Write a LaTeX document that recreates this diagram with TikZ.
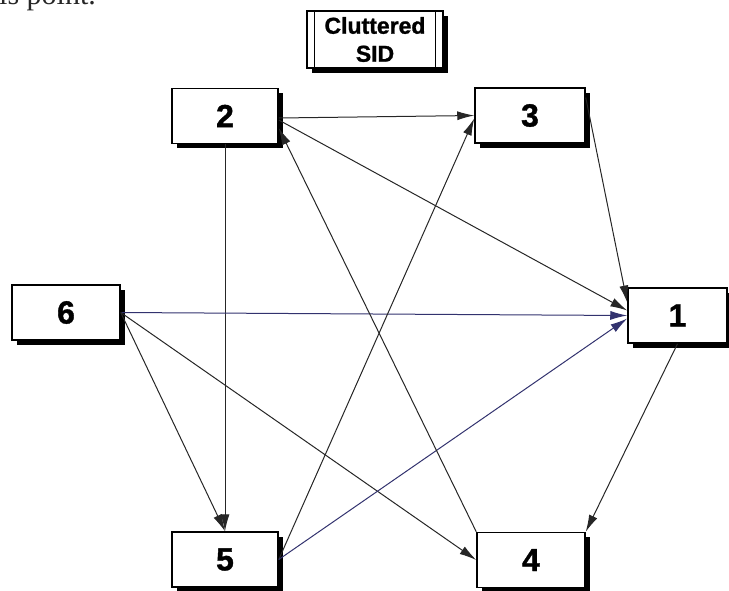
\documentclass[tikz,border=0pt]{standalone}
\usepackage{fontspec}
\setmainfont{Liberation Serif}
\newfontfamily\boxfont[FakeBold=1.2]{Liberation Sans Bold}
\usetikzlibrary{arrows.meta,shadows}

\begin{document}
\begin{tikzpicture}[x=1pt,y=-1pt,
  box/.style={draw=black, line width=1.5pt, fill=white, inner sep=0pt,
    minimum height=55pt, font=\boxfont\fontsize{32}{32}\selectfont,
    drop shadow={shadow xshift=4.5pt, shadow yshift=-4.5pt, fill=black, opacity=1}},
  link/.style={draw=black!85, line width=1pt, -{Latex[length=17pt,width=9pt]}},
  hlink/.style={link, draw={rgb,255:red,50;green,50;blue,110}},
]
\useasboundingbox (0,0) rectangle (729,590);
\clip (0,0) rectangle (729,590);

% running text from the page above the figure
\node[anchor=base west, inner sep=0pt, font=\fontsize{30}{30}\selectfont, text=black!85]
  (frag) at (-1,4) {is point.};

% title box (predefined-process style with inner side bars)
\node[box, minimum width=136pt, minimum height=57pt,
  font=\boxfont\fontsize{23}{28}\selectfont, align=center]
  (title) at (375,39.5) {Cluttered\\SID};
\draw[line width=1.2pt] ([xshift=8pt]title.north west) -- ([xshift=8pt]title.south west);
\draw[line width=1.2pt] ([xshift=-8pt]title.north east) -- ([xshift=-8pt]title.south east);

% numbered boxes
\node[box, minimum width=106pt] (n2) at (225,116) {2};
\node[box, minimum width=110pt] (n3) at (530,115.5) {3};
\node[box, minimum width=108pt] (n6) at (66,312.5) {6};
\node[box, minimum width=99pt]  (n1) at (677.5,315.5) {1};
\node[box, minimum width=106pt] (n5) at (225,559.5) {5};
\node[box, minimum width=108pt] (n4) at (531,560) {4};

% connectors
\draw[link] ([yshift=-2pt]n2.east) -- (n3.west);
\draw[link] ([yshift=-4pt]n2.east) -- ([yshift=5pt]n1.west);
\draw[link] (n2.south) -- (n5.north);
\draw[link] ([yshift=18pt]n3.east) -- ([yshift=13pt]n1.west);
\draw[hlink] (n6.east) -- (n1.west);
\draw[link] (n6.east) -- (n5.north);
\draw[link] (n6.east) -- (n4.west);
\draw[link] (n5.east) -- ([yshift=-3pt]n3.west);
\draw[hlink] (n5.east) -- ([yshift=-3pt]n1.west);
\draw[link] (n4.north west) -- ([yshift=-12pt]n2.east);
\draw[link] (n1.south) -- (n4.north east);
\end{tikzpicture}
\end{document}
